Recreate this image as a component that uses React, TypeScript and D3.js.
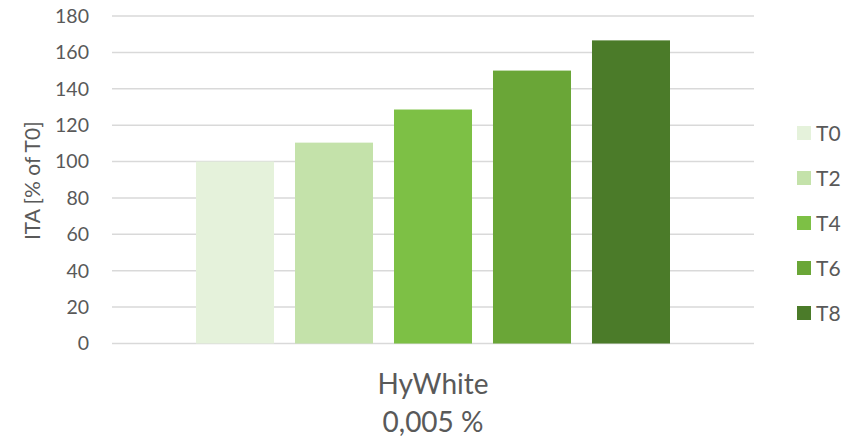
import { useMemo } from 'react';
import * as d3 from 'd3';

// chart data
const CATEGORY = 'HyWhite';
const CATEGORY_SUB = '0,005 %';
const SERIES = ['T0', 'T2', 'T4', 'T6', 'T8'];
const VALUES = [100, 110.4, 128.6, 150, 166.6];
const COLORS = ['#E5F2DB', '#C4E2AA', '#7DC045', '#6AA637', '#4B7B29'];
const Y_TICKS = [0, 20, 40, 60, 80, 100, 120, 140, 160, 180];

const W = 856;
const H = 441;
const FONT = 'Lato, "Open Sans", sans-serif';
const TEXT = '#595959';

export default function App() {
	const plot = { left: 112, right: 754, top: 16, bottom: 343.5 };

	const y = useMemo(() => d3.scaleLinear().domain([0, 180]).range([plot.bottom, plot.top]), []);
	const x0 = useMemo(
		() => d3.scaleBand().domain([CATEGORY]).range([plot.left, plot.right]).paddingInner(0).paddingOuter(0.1485),
		[]
	);
	const x1 = useMemo(
		() => d3.scaleBand().domain(SERIES).range([0, x0.bandwidth()]).paddingInner(0.212).paddingOuter(0.106),
		[x0]
	);

	const cx = (x0(CATEGORY) ?? 0) + x0.bandwidth() / 2;

	return (
		<svg width={W} height={H} style={{ position: 'absolute', left: 0, top: 0, background: '#fff' }} fontFamily={FONT}>
			{/* gridlines */}
			{Y_TICKS.map((t) => (
				<line key={t} x1={plot.left} x2={plot.right} y1={y(t)} y2={y(t)} stroke="#D9D9D9" strokeWidth={1.5} />
			))}
			{/* tick labels */}
			{Y_TICKS.map((t) => (
				<text key={`l${t}`} x={89} y={y(t)} dy="0.35em" textAnchor="end" fontSize={19.5} fill={TEXT}>
					{t}
				</text>
			))}
			<text transform={`translate(40,${(plot.top + plot.bottom) / 2 + 1}) rotate(-90)`} textAnchor="middle" fontSize={21} fill={TEXT}>
				ITA [% of T0]
			</text>

			{/* bars */}
			{SERIES.map((s, i) => {
				const bx = (x0(CATEGORY) ?? 0) + (x1(s) ?? 0);
				return <rect key={s} x={bx} y={y(VALUES[i])} width={x1.bandwidth()} height={plot.bottom - y(VALUES[i])} fill={COLORS[i]} />;
			})}

			{/* category label */}
			<text x={cx} y={394} textAnchor="middle" fontSize={28} fill={TEXT}>
				{CATEGORY}
			</text>
			<text x={cx} y={432} textAnchor="middle" fontSize={28} fill={TEXT}>
				{CATEGORY_SUB}
			</text>

			{/* legend */}
			{SERIES.map((s, i) => (
				<g key={`lg${s}`} transform={`translate(797,${126 + i * 45})`}>
					<rect width={14} height={14} fill={COLORS[i]} />
					<text x={19} y={7} dy="0.36em" fontSize={21} fill={TEXT}>
						{s}
					</text>
				</g>
			))}
		</svg>
	);
}
